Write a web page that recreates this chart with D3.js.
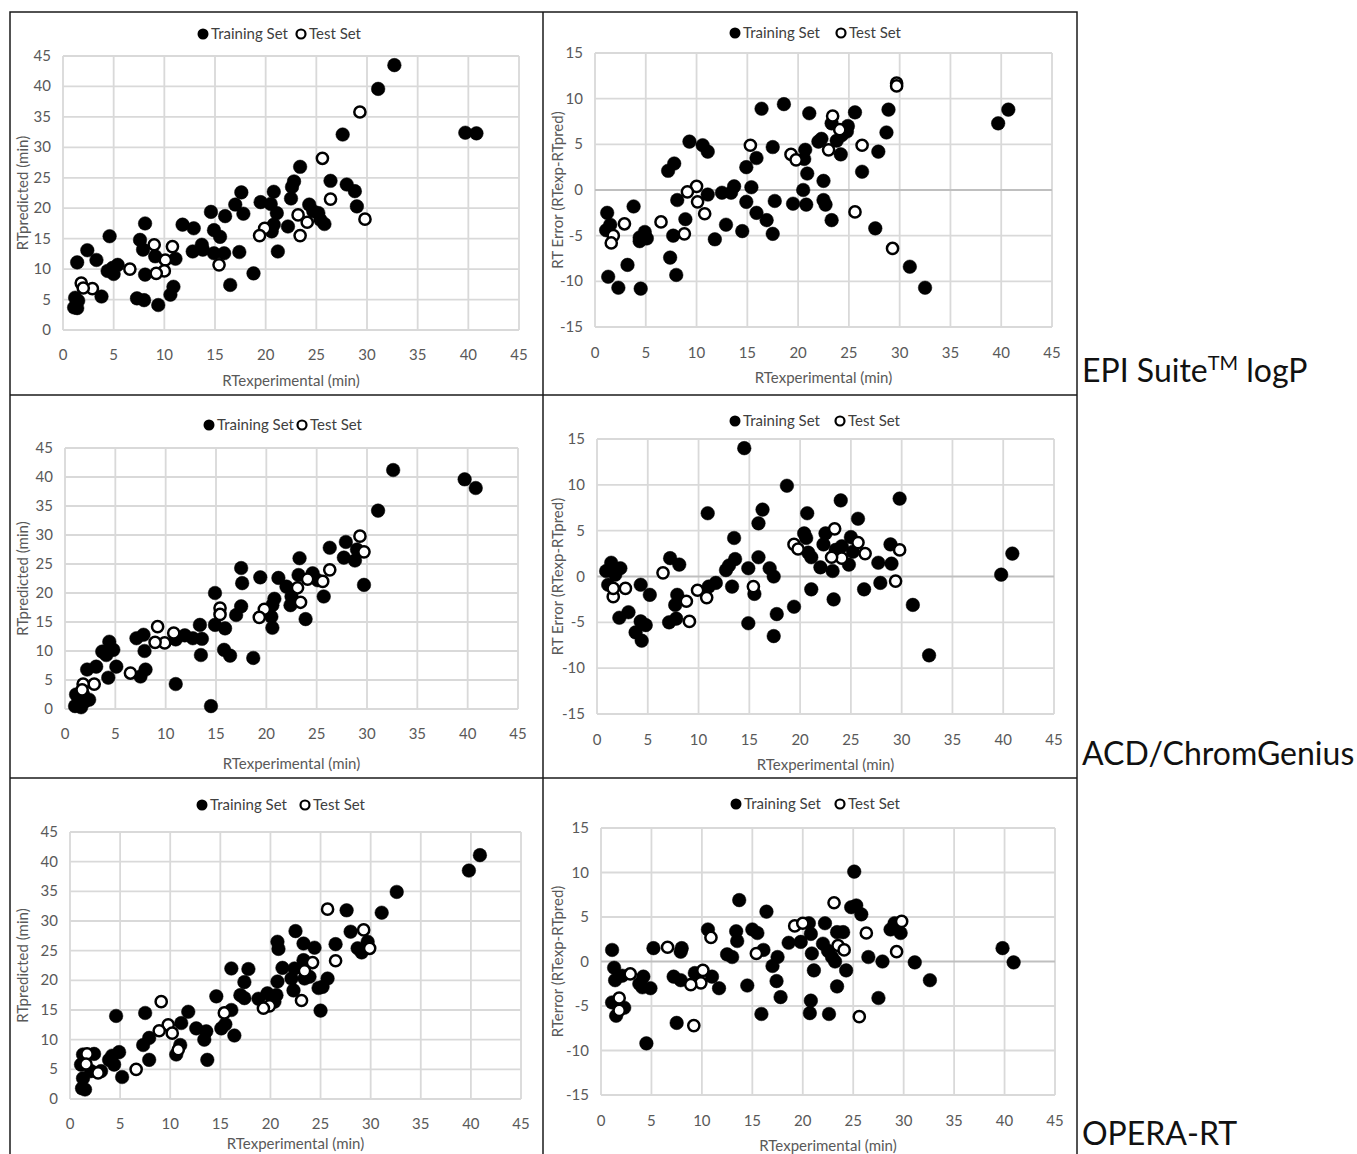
<!DOCTYPE html>
<html>
<head>
<meta charset="utf-8">
<script src="https://cdn.jsdelivr.net/npm/d3@7"></script>
<style>
  body { margin: 0; background: #fff; }
  text { font-family: Lato, "Liberation Sans", sans-serif; }
</style>
</head>
<body>
<div id="chart"></div>
<script>

// axis ticks
const xTicks = [0, 5, 10, 15, 20, 25, 30, 35, 40, 45];
const predTicks = [0, 5, 10, 15, 20, 25, 30, 35, 40, 45];
const errTicks = [-15, -10, -5, 0, 5, 10, 15];

// series labels
const seriesNames = ["Training Set", "Test Set"];
const methodNames = ["EPI Suite", "ACD/ChromGenius", "OPERA-RT"];

// EPI Suite logP : [RTexp, RTpred]
const epiPredTrain = [[32.7,43.5],[31.1,39.6],[27.6,32.1],[39.7,32.4],[40.8,32.3],[23.4,26.8],[22.8,24.4],[22.6,23.5],[26.4,24.5],[28.0,23.9],[28.8,22.8],[29.0,20.3],[22.5,21.6],[17.6,22.6],[17.0,20.6],[17.8,19.1],[14.6,19.4],[16.0,18.7],[14.9,16.4],[15.5,15.3],[19.5,21.0],[20.8,22.7],[20.5,20.7],[21.1,19.2],[20.8,17.3],[20.6,16.2],[22.2,17.0],[24.3,20.6],[24.7,19.5],[25.2,19.2],[25.4,18.1],[25.8,17.4],[21.2,12.9],[18.8,9.3],[16.5,7.4],[17.4,12.8],[14.9,12.6],[15.9,12.6],[12.9,16.7],[11.8,17.3],[12.8,12.9],[13.7,14.0],[13.8,13.2],[8.1,17.5],[7.6,14.8],[7.9,13.2],[9.1,12.1],[8.1,9.1],[11.1,11.7],[10.9,7.1],[10.6,5.8],[9.4,4.1],[7.3,5.2],[8.0,4.9],[4.6,15.4],[4.4,9.7],[4.9,10.2],[5.0,9.2],[5.4,10.7],[3.3,11.5],[2.4,13.1],[1.4,11.1],[3.8,5.5],[1.2,5.3],[1.5,4.8],[1.1,3.7],[1.4,3.6]];
const epiPredTest = [[29.3,35.8],[25.6,28.2],[26.4,21.5],[29.8,18.2],[23.2,18.9],[24.1,17.7],[23.4,15.5],[19.9,16.7],[19.4,15.5],[15.4,10.7],[10.8,13.7],[10.1,11.5],[10.0,9.7],[9.2,9.3],[9.0,14.0],[6.6,10.0],[2.9,6.8],[1.8,7.7],[2.0,6.9]];
// EPI Suite logP : [RTexp, RTexp-RTpred]
const epiErrTrain = [[39.7,7.3],[40.7,8.8],[32.5,-10.7],[31.0,-8.4],[27.6,-4.2],[28.9,8.8],[28.7,6.3],[27.9,4.2],[26.3,2.0],[25.6,8.5],[24.9,7.0],[24.8,6.4],[24.3,6.0],[23.8,5.4],[23.3,7.3],[24.2,3.9],[22.0,5.3],[22.3,5.6],[21.1,8.4],[18.6,9.4],[16.4,8.9],[17.5,4.7],[15.9,3.5],[14.9,2.5],[15.4,0.3],[14.9,-1.3],[15.9,-2.5],[16.9,-3.3],[17.5,-4.8],[17.7,-1.2],[14.5,-4.5],[19.5,-1.5],[20.7,4.4],[20.6,3.4],[20.9,1.8],[20.5,0.0],[20.8,-1.6],[22.5,1.0],[22.5,-1.1],[22.7,-1.6],[23.3,-3.3],[13.7,0.4],[13.4,-0.3],[12.5,-0.3],[12.9,-3.8],[11.8,-5.4],[11.1,-0.5],[10.6,4.9],[11.1,4.2],[9.3,5.3],[8.9,-3.2],[8.1,-1.1],[7.8,2.9],[7.2,2.1],[7.7,-5.0],[7.4,-7.4],[8.0,-9.3],[4.5,-10.8],[2.3,-10.7],[1.3,-9.5],[3.2,-8.2],[3.8,-1.8],[4.9,-4.6],[4.4,-5.6],[5.1,-5.3],[4.4,-5.2],[1.2,-2.5],[1.1,-4.4],[1.5,-3.8]];
const epiErrTest = [[29.7,11.7],[29.7,11.4],[29.3,-6.4],[25.6,-2.4],[26.3,4.9],[23.4,8.1],[24.1,6.6],[23.0,4.4],[19.3,3.9],[19.8,3.3],[15.3,4.9],[10.8,-2.6],[10.1,-1.3],[10.0,0.4],[9.1,-0.2],[8.8,-4.8],[6.5,-3.5],[2.9,-3.7],[1.8,-5.0],[1.6,-5.8]];

// ACD/ChromGenius
const acdPredTrain = [[32.6,41.2],[39.7,39.6],[40.8,38.1],[31.1,34.2],[27.9,28.8],[26.3,27.8],[27.7,26.1],[28.8,25.6],[29.0,27.5],[29.7,21.4],[23.3,26.0],[23.2,23.1],[24.6,23.4],[25.1,22.2],[25.7,19.4],[23.9,15.5],[22.5,19.4],[22.4,17.9],[22.0,21.1],[21.2,22.6],[20.8,19.0],[20.6,17.9],[20.5,15.9],[20.6,14.0],[19.4,22.7],[17.5,24.3],[17.6,21.7],[17.5,17.7],[17.0,16.2],[18.7,8.8],[14.9,20.0],[14.9,14.5],[15.9,13.9],[15.8,10.2],[16.4,9.2],[14.5,0.5],[13.4,14.5],[13.6,12.1],[13.5,9.3],[12.7,12.2],[11.9,12.7],[11.0,12.0],[11.0,4.3],[7.8,12.8],[7.1,12.2],[7.9,10.0],[8.0,6.8],[7.5,5.6],[4.4,11.6],[4.8,10.2],[3.7,9.9],[4.1,9.3],[5.1,7.3],[4.3,5.4],[3.1,7.3],[2.2,6.8],[2.4,1.6],[1.8,2.5],[1.1,2.5],[1.0,0.5],[1.6,0.3],[1.9,1.2]];
const acdPredTest = [[29.3,29.8],[29.7,27.1],[26.3,24.0],[25.6,22.0],[24.1,22.4],[23.1,20.9],[23.4,18.4],[19.8,17.2],[19.3,15.8],[15.4,17.4],[15.4,16.3],[10.8,13.1],[9.9,11.4],[9.2,14.2],[8.95,11.5],[6.5,6.2],[2.9,4.3],[1.8,4.3],[1.7,3.3]];
const acdErrTrain = [[14.5,14.0],[18.7,9.9],[10.9,6.9],[16.3,7.3],[15.9,5.8],[24.0,8.3],[29.8,8.5],[25.7,6.3],[20.7,6.9],[20.4,4.7],[20.6,4.2],[22.5,4.7],[22.3,3.5],[25.0,4.3],[24.1,3.3],[23.5,2.9],[25.2,2.7],[24.8,1.3],[21.1,2.1],[20.8,2.6],[22.0,1.0],[23.2,0.6],[23.3,-2.5],[21.1,-1.4],[19.4,-3.3],[26.3,-1.4],[27.7,1.5],[27.9,-0.7],[28.9,3.5],[29.0,1.4],[31.1,-3.1],[32.7,-8.6],[39.8,0.2],[40.9,2.5],[13.5,4.2],[13.6,1.9],[12.7,0.7],[13.0,1.2],[13.3,-1.1],[14.9,0.9],[15.5,-1.9],[14.9,-5.1],[17.0,0.9],[17.4,0.0],[17.7,-4.1],[17.4,-6.5],[15.9,2.1],[11.7,-0.7],[11.0,-1.1],[7.2,2.0],[8.1,1.3],[7.9,-2.0],[7.7,-3.1],[7.8,-4.6],[7.1,-5.0],[4.3,-0.9],[5.2,-2.0],[4.3,-4.9],[4.8,-5.3],[3.8,-6.1],[4.4,-7.0],[2.2,-4.5],[3.1,-3.9],[0.9,0.6],[1.4,1.5],[2.3,0.9],[1.8,0.2],[1.1,-0.9]];
const acdErrTest = [[29.8,2.9],[29.4,-0.5],[26.4,2.5],[25.7,3.7],[24.1,2.0],[23.1,2.1],[23.4,5.2],[19.4,3.5],[19.8,3.0],[15.4,-1.1],[10.8,-2.3],[9.9,-1.5],[8.8,-2.7],[9.1,-4.9],[6.5,0.4],[2.8,-1.3],[1.6,-2.2],[1.6,-1.3]];

// OPERA-RT
const operaPredTrain = [[40.9,41.1],[39.8,38.5],[32.6,34.9],[31.1,31.4],[27.6,31.8],[28.0,28.2],[28.7,25.4],[29.1,24.7],[29.7,26.5],[26.5,26.1],[25.7,20.3],[25.2,18.9],[24.8,18.7],[25.0,14.9],[24.4,25.5],[23.3,26.2],[22.5,28.3],[23.3,23.4],[22.4,22.0],[23.4,20.3],[23.9,20.6],[22.1,20.3],[22.3,18.3],[20.7,26.5],[20.8,25.3],[21.2,22.1],[20.7,19.8],[20.6,17.5],[20.4,16.4],[19.7,17.8],[18.8,16.9],[17.8,21.9],[17.4,19.7],[17.4,17.0],[17.0,17.5],[16.1,22.0],[16.1,15.0],[16.4,10.7],[14.6,17.3],[15.1,11.9],[15.5,12.6],[11.8,14.7],[12.6,11.9],[13.6,11.4],[13.4,10.0],[13.7,6.6],[11.1,12.8],[10.6,7.5],[11.0,9.1],[7.5,14.5],[7.9,10.3],[7.3,9.1],[7.9,6.6],[4.6,14.0],[4.9,7.9],[5.2,3.7],[4.2,7.3],[3.9,6.6],[4.4,5.8],[2.4,7.6],[2.1,4.7],[1.3,7.5],[1.1,5.8],[1.3,3.5],[1.2,1.8],[1.5,1.6],[3.1,4.7]];
const operaPredTest = [[25.7,32.0],[29.3,28.5],[29.9,25.4],[26.5,23.3],[24.2,23.0],[23.4,21.6],[23.1,16.6],[19.9,15.7],[19.3,15.3],[15.4,14.5],[9.1,16.4],[9.8,12.5],[10.2,11.1],[8.9,11.5],[10.8,8.3],[6.6,5.0],[2.8,4.4],[1.7,7.6],[1.6,5.9]];
const operaErrTrain = [[25.1,10.1],[39.8,1.5],[40.9,-0.1],[32.6,-2.1],[31.1,-0.1],[29.7,3.2],[29.1,4.3],[28.7,3.6],[27.9,0.0],[27.5,-4.1],[26.5,0.5],[24.8,6.1],[25.3,6.3],[25.8,5.3],[24.3,-1.0],[24.0,3.3],[23.4,3.3],[23.4,-2.8],[22.6,-5.9],[22.2,4.3],[22.0,2.0],[22.5,1.2],[22.9,0.5],[23.2,0.0],[20.6,4.3],[20.8,3.1],[20.9,0.9],[21.1,-1.0],[20.8,-4.4],[20.7,-5.8],[19.8,2.2],[18.6,2.1],[16.4,5.6],[16.1,1.3],[17.5,0.5],[17.0,-0.5],[17.4,-2.2],[17.8,-4.0],[15.9,-5.9],[15.0,3.6],[15.5,3.2],[14.5,-2.7],[13.7,6.9],[13.4,3.4],[13.5,2.3],[12.5,0.8],[13.0,0.5],[11.7,-3.0],[11.0,-1.7],[10.6,3.6],[9.3,-1.3],[8.0,1.5],[7.9,1.1],[7.2,-1.7],[7.9,-2.1],[7.5,-6.9],[4.5,-9.2],[5.2,1.5],[4.9,-3.0],[4.2,-1.7],[3.8,-2.5],[4.1,-2.9],[2.3,-5.2],[1.5,-6.1],[1.1,-4.6],[1.1,1.3],[1.3,-0.7],[1.4,-2.1],[2.1,-1.6]];
const operaErrTest = [[23.1,6.6],[29.8,4.5],[26.3,3.2],[29.3,1.1],[23.5,1.8],[24.1,1.3],[25.6,-6.2],[19.2,4.0],[20.0,4.3],[15.4,0.9],[10.9,2.7],[10.1,-1.0],[9.9,-2.4],[8.9,-2.6],[9.2,-7.2],[6.6,1.6],[2.9,-1.4],[1.8,-4.1],[1.8,-5.5]];


const COLORS = {
    grid: "#d9d9d9",
    zero: "#bfbfbf",
    tick: "#595959",
    legend: "#404040",
    frame: "#1a1a1a"
};

// panel geometry (pixels), data wired in below
const panels = [
    { train: epiPredTrain, test: epiPredTest, yTicks: predTicks, yTitle: "RTpredicted (min)",
      left: 63, right: 519, top: 56, bottom: 330, legY: 34, legA: 203, legB: 301, xLabY: 360, xTitleY: 386, yTitleX: 28 },
    { train: epiErrTrain, test: epiErrTest, yTicks: errTicks, yTitle: "RT Error (RTexp-RTpred)",
      left: 595, right: 1052, top: 53, bottom: 327, legY: 33, legA: 735, legB: 841, xLabY: 358, xTitleY: 383, yTitleX: 563 },
    { train: acdPredTrain, test: acdPredTest, yTicks: predTicks, yTitle: "RTpredicted (min)",
      left: 65, right: 518, top: 448, bottom: 709, legY: 425, legA: 209, legB: 302, xLabY: 739, xTitleY: 769, yTitleX: 28 },
    { train: acdErrTrain, test: acdErrTest, yTicks: errTicks, yTitle: "RT Error (RTexp-RTpred)",
      left: 597, right: 1054, top: 439, bottom: 714, legY: 421, legA: 735, legB: 840, xLabY: 745, xTitleY: 770, yTitleX: 563 },
    { train: operaPredTrain, test: operaPredTest, yTicks: predTicks, yTitle: "RTpredicted (min)",
      left: 70, right: 521, top: 832, bottom: 1099, legY: 805, legA: 202, legB: 305, xLabY: 1129, xTitleY: 1149, yTitleX: 28 },
    { train: operaErrTrain, test: operaErrTest, yTicks: errTicks, yTitle: "RTerror (RTexp-RTpred)",
      left: 601, right: 1055, top: 828, bottom: 1095, legY: 804, legA: 736, legB: 840, xLabY: 1126, xTitleY: 1151, yTitleX: 563 }
];

const svg = d3.select("#chart")
    .append("svg")
    .attr("width", 1357)
    .attr("height", 1154);

svg.append("rect")
    .attr("width", 1357)
    .attr("height", 1154)
    .attr("fill", "#fff");


//////////////////////
//      PANELS
//////////////////////
panels.forEach(p => {
    const g = svg.append("g");
    const yExt = d3.extent(p.yTicks);

    const x = d3.scaleLinear().domain([0, 45]).range([p.left, p.right]);
    const y = d3.scaleLinear().domain(yExt).range([p.bottom, p.top]);

    // gridlines
    g.selectAll("line.vgrid")
        .data(xTicks)
        .enter()
        .append("line")
        .attr("x1", d => x(d)).attr("x2", d => x(d))
        .attr("y1", p.top).attr("y2", p.bottom)
        .attr("stroke", COLORS.grid)
        .attr("stroke-width", 1.8);

    g.selectAll("line.hgrid")
        .data(p.yTicks)
        .enter()
        .append("line")
        .attr("x1", p.left).attr("x2", p.right)
        .attr("y1", d => y(d)).attr("y2", d => y(d))
        .attr("stroke", d => (d === 0 && yExt[0] < 0) ? COLORS.zero : COLORS.grid)
        .attr("stroke-width", 1.8);

    // tick labels
    g.selectAll("text.xlab")
        .data(xTicks)
        .enter()
        .append("text")
        .attr("x", d => x(d))
        .attr("y", p.xLabY)
        .attr("text-anchor", "middle")
        .attr("fill", COLORS.tick)
        .style("font-size", "15px")
        .text(d => d);

    g.selectAll("text.ylab")
        .data(p.yTicks)
        .enter()
        .append("text")
        .attr("x", p.left - 12)
        .attr("y", d => y(d) + 5)
        .attr("text-anchor", "end")
        .attr("fill", COLORS.tick)
        .style("font-size", "15px")
        .text(d => d);

    // axis titles
    g.append("text")
        .attr("x", (p.left + p.right) / 2)
        .attr("y", p.xTitleY)
        .attr("text-anchor", "middle")
        .attr("fill", COLORS.tick)
        .style("font-size", "15px")
        .text("RTexperimental (min)");

    g.append("text")
        .attr("transform", `translate(${p.yTitleX},${(p.top + p.bottom) / 2}) rotate(-90)`)
        .attr("text-anchor", "middle")
        .attr("fill", COLORS.tick)
        .style("font-size", "15px")
        .text(p.yTitle);

    // points
    g.selectAll("circle.train")
        .data(p.train)
        .enter()
        .append("circle")
        .attr("cx", d => x(d[0]))
        .attr("cy", d => y(d[1]))
        .attr("r", 6.8)
        .attr("fill", "#000")
        .attr("stroke", "#000")
        .attr("stroke-width", 0.5);

    g.selectAll("circle.test")
        .data(p.test)
        .enter()
        .append("circle")
        .attr("cx", d => x(d[0]))
        .attr("cy", d => y(d[1]))
        .attr("r", 5.6)
        .attr("fill", "#fff")
        .attr("stroke", "#000")
        .attr("stroke-width", 2.5);

    // legend
    const leg = g.append("g");
    leg.append("circle")
        .attr("cx", p.legA).attr("cy", p.legY)
        .attr("r", 5.5).attr("fill", "#000");
    leg.append("text")
        .attr("x", p.legA + 8).attr("y", p.legY + 5)
        .attr("fill", COLORS.legend)
        .style("font-size", "15px")
        .text(seriesNames[0]);
    leg.append("circle")
        .attr("cx", p.legB).attr("cy", p.legY)
        .attr("r", 4.5).attr("fill", "#fff")
        .attr("stroke", "#000").attr("stroke-width", 2.2);
    leg.append("text")
        .attr("x", p.legB + 8).attr("y", p.legY + 5)
        .attr("fill", COLORS.legend)
        .style("font-size", "15px")
        .text(seriesNames[1]);
});


//////////////////////
//      FRAMES
//////////////////////
const frame = svg.append("g")
    .attr("stroke", COLORS.frame)
    .attr("stroke-width", 1.5)
    .attr("fill", "none");

frame.append("rect").attr("x", 10).attr("y", 12).attr("width", 1067).attr("height", 1150);
frame.append("line").attr("x1", 543).attr("x2", 543).attr("y1", 12).attr("y2", 1154);
frame.append("line").attr("x1", 10).attr("x2", 1077).attr("y1", 395).attr("y2", 395);
frame.append("line").attr("x1", 10).attr("x2", 1077).attr("y1", 778).attr("y2", 778);

// method labels on the right
const labels = svg.append("g")
    .attr("fill", "#111")
    .style("font-size", "32px");

const epi = labels.append("text").attr("x", 1082).attr("y", 382);
epi.append("tspan").text(methodNames[0]);
epi.append("tspan").attr("dy", -12).style("font-size", "20px").text("TM");
epi.append("tspan").attr("dy", 12).text(" logP");

labels.append("text").attr("x", 1082).attr("y", 765).text(methodNames[1]);
labels.append("text").attr("x", 1082).attr("y", 1145).text(methodNames[2]);

</script>
</body>
</html>
